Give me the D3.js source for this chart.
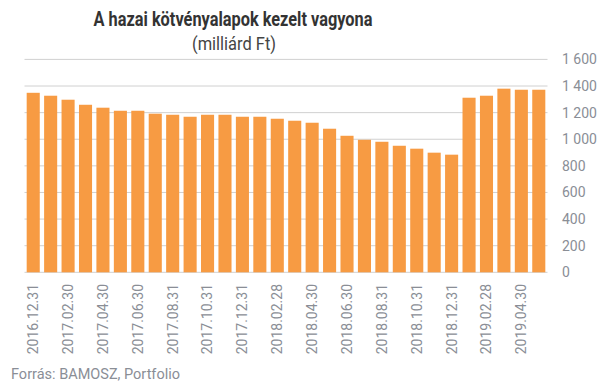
<!DOCTYPE html>
<html>
<head>
<meta charset="utf-8">
<script src="https://cdn.jsdelivr.net/npm/d3@7"></script>
<style>
  body { margin: 0; background: #fff; }
  text { font-family: Roboto, "Noto Sans", sans-serif; }
</style>
</head>
<body>
<div id="chart"></div>
<script>
// month-end dates (labels as printed on the chart)
const dates = [
  "2016.12.31", "2017.01.31", "2017.02.30", "2017.03.31", "2017.04.30", "2017.05.31",
  "2017.06.30", "2017.07.31", "2017.08.31", "2017.09.30", "2017.10.31", "2017.11.30",
  "2017.12.31", "2018.01.31", "2018.02.28", "2018.03.31", "2018.04.30", "2018.05.31",
  "2018.06.30", "2018.07.31", "2018.08.31", "2018.09.30", "2018.10.31", "2018.11.30",
  "2018.12.31", "2019.01.31", "2019.02.28", "2019.03.31", "2019.04.30", "2019.05.31"
];
// managed assets, billion HUF
const values = [
  1349, 1327, 1297, 1259, 1237, 1214, 1214, 1192, 1184, 1169,
  1184, 1184, 1169, 1169, 1154, 1139, 1124, 1079, 1026, 996,
  981, 951, 929, 899, 884, 1312, 1327, 1380, 1372, 1372
];
const yTicks = [0, 200, 400, 600, 800, 1000, 1200, 1400, 1600];

const width = 605, height = 387;
const svg = d3.select("#chart").append("svg")
  .attr("width", width).attr("height", height);

const x = d3.scaleBand()
  .domain(dates)
  .range([24.5, 547.5])
  .paddingInner(0.25)
  .paddingOuter(0.125);

const y = d3.scaleLinear()
  .domain([0, 1600])
  .range([272.3, 59.4]);

// gridlines
svg.append("g")
  .selectAll("line")
  .data(yTicks)
  .join("line")
  .attr("x1", 24.5)
  .attr("x2", 547.5)
  .attr("y1", d => y(d))
  .attr("y2", d => y(d))
  .attr("stroke", "#d0d0d0")
  .attr("stroke-width", 1);

// bars
svg.append("g")
  .selectAll("rect")
  .data(values)
  .join("rect")
  .attr("x", (d, i) => x(dates[i]))
  .attr("width", x.bandwidth())
  .attr("y", d => y(d))
  .attr("height", d => y(0) - y(d))
  .attr("fill", "#f79b43");

// y axis labels on the right
const fmt = d => d3.format(",")(d).replace(/,/g, " ");
svg.append("g")
  .selectAll("text")
  .data(yTicks)
  .join("text")
  .attr("x", 562)
  .attr("y", d => y(d))
  .attr("dy", "0.35em")
  .attr("font-size", 14)
  .attr("fill", "#8a8e96")
  .text(fmt);

// x labels, every other month, rotated
svg.append("g")
  .selectAll("text")
  .data(dates.filter((d, i) => i % 2 === 0))
  .join("text")
  .attr("transform", d => `translate(${x(d) + x.bandwidth() / 2},284) rotate(-90)`)
  .attr("text-anchor", "end")
  .attr("dy", "0.35em")
  .attr("font-size", 14)
  .attr("fill", "#8a8e96")
  .text(d => d);

// title
svg.append("text")
  .attr("x", 233)
  .attr("y", 26)
  .attr("text-anchor", "middle")
  .attr("font-size", 19.5)
  .attr("font-weight", "bold")
  .attr("fill", "#333")
  .attr("textLength", 279)
  .attr("lengthAdjust", "spacingAndGlyphs")
  .text("A hazai kötvényalapok kezelt vagyona");

svg.append("text")
  .attr("x", 234)
  .attr("y", 50)
  .attr("text-anchor", "middle")
  .attr("font-size", 18.5)
  .attr("fill", "#444")
  .attr("textLength", 84)
  .attr("lengthAdjust", "spacingAndGlyphs")
  .text("(milliárd Ft)");

// source
svg.append("text")
  .attr("x", 11)
  .attr("y", 379)
  .attr("font-size", 14.5)
  .attr("fill", "#8a8e96")
  .text("Forrás: BAMOSZ, Portfolio");
</script>
</body>
</html>
